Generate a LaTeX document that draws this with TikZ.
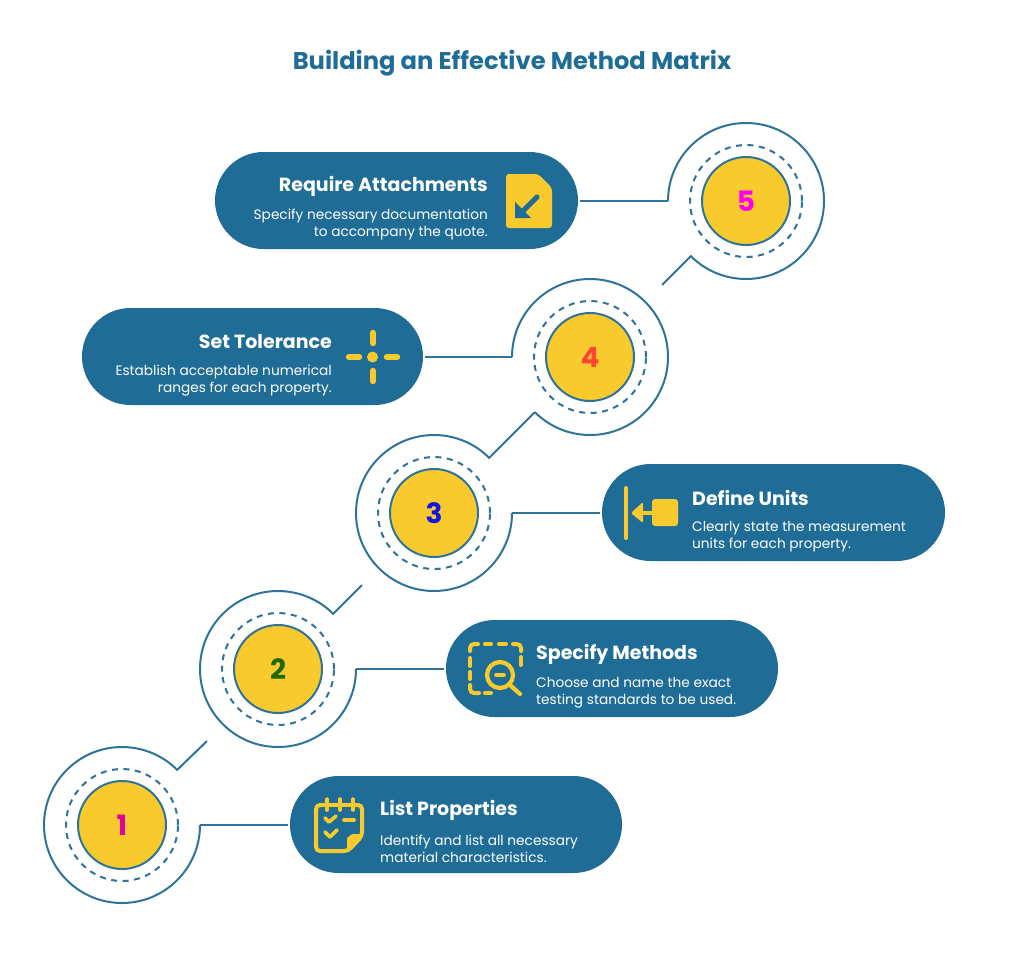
\documentclass[tikz,border=0pt]{standalone}
\usepackage{fontspec}
\setmainfont{Poppins}
\definecolor{pillblue}{HTML}{1F6D97}
\definecolor{ringblue}{HTML}{2E7399}
\definecolor{sunyellow}{HTML}{F9CA2D}
\definecolor{numA}{HTML}{E0009C}
\definecolor{numB}{HTML}{1F6A00}
\definecolor{numC}{HTML}{1414E6}
\definecolor{numD}{HTML}{FF4433}
\definecolor{numE}{HTML}{FF00F0}
\tikzset{
  pill/.style={fill=pillblue, rounded corners=48.5pt, minimum height=97pt, inner sep=0pt, outer sep=0pt},
  disc/.style={circle, draw=ringblue, fill=sunyellow, line width=2pt, minimum size=88pt, inner sep=0pt, font=\fontsize{28}{28}\selectfont\bfseries},
  dashring/.style={circle, draw=ringblue, line width=2pt, dash pattern=on 6pt off 5.5pt, minimum size=112pt, inner sep=0pt},
  ring/.style={circle, minimum size=156pt, inner sep=0pt, outer sep=0pt},
  ringline/.style={draw=ringblue, line width=2pt},
  heading/.style={text=white, font=\fontsize{19}{21}\selectfont\bfseries, inner sep=0pt},
  body/.style={text=white, font=\fontsize{13.7}{17}\selectfont, inner sep=0pt},
  iconline/.style={draw=sunyellow, line cap=round, line join=round},
}
\begin{document}
\begin{tikzpicture}[x=1pt, y=1pt]
    \useasboundingbox (0,0) rectangle (1024,-970);

    % Titolo
    \node[text=pillblue, font=\fontsize{24.2}{27}\selectfont\bfseries, inner sep=0pt] (title) at (512,-63) {Building an Effective Method Matrix};

    % Pillole
    \node[pill, minimum width=332pt] (pill1) at (456,-824.5) {};
    \node[pill, minimum width=332pt] (pill2) at (612,-668.5) {};
    \node[pill, minimum width=343pt] (pill3) at (773.5,-512.5) {};
    \node[pill, minimum width=341pt] (pill4) at (252.5,-356.5) {};
    \node[pill, minimum width=363pt] (pill5) at (396.5,-200.5) {};

    % Cerchi gialli
    \node[disc, text=numA] (disc1) at (122,-825) {1};
    \node[disc, text=numB] (disc2) at (278,-669) {2};
    \node[disc, text=numC] (disc3) at (434,-513) {3};
    \node[disc, text=numD] (disc4) at (590,-357) {4};
    \node[disc, text=numE] (disc5) at (746,-201) {5};

    % Anelli tratteggiati
    \node[dashring] (dash1) at (122,-825) {};
    \node[dashring] (dash2) at (278,-669) {};
    \node[dashring] (dash3) at (434,-513) {};
    \node[dashring] (dash4) at (590,-357) {};
    \node[dashring] (dash5) at (746,-201) {};

    % Anelli esterni
    \node[ring] (ring1) at (122,-825) {};
    \node[ring] (ring2) at (278,-669) {};
    \node[ring] (ring3) at (434,-513) {};
    \node[ring] (ring4) at (590,-357) {};
    \node[ring] (ring5) at (746,-201) {};
    \coordinate (tail1) at (207,-741);
    \coordinate (tail2) at (362,-585);
    \coordinate (tail5) at (662,-285);

    \draw[ringline] (ring1.east) arc[start angle=0, end angle=-315, radius=78pt] -- (tail1);
    \draw[ringline] (ring2.east) arc[start angle=0, end angle=-315, radius=78pt] -- (tail2);
    \draw[ringline] (ring3.east) arc[start angle=0, end angle=-315, radius=78pt] -- (ring4.225);
    \draw[ringline] (ring4.west) arc[start angle=180, end angle=-135, radius=78pt];
    \draw[ringline] (ring5.west) arc[start angle=180, end angle=-135, radius=78pt] -- (tail5);

    % Collegamenti verso le pillole
    \draw[ringline, shorten >=2pt] (ring1.east) -- (ring1.east -| pill1.west);
    \draw[ringline, shorten >=2pt] (ring2.east) -- (ring2.east -| pill2.west);
    \draw[ringline, shorten >=2pt] (ring3.east) -- (ring3.east -| pill3.west);
    \draw[ringline, shorten >=2pt] (ring4.west) -- (ring4.west -| pill4.east);
    \draw[ringline, shorten >=2pt] (ring5.west) -- (ring5.west -| pill5.east);

    % Testi
    \node[heading, anchor=west] (head1) at (380,-810) {List Properties};
    \node[body, anchor=west, align=left] (text1) at (380,-849) {Identify and list all necessary\\material characteristics.};
    \node[heading, anchor=west] (head2) at (536,-654) {Specify Methods};
    \node[body, anchor=west, align=left] (text2) at (536,-693) {Choose and name the exact\\testing standards to be used.};
    \node[heading, anchor=west] (head3) at (692,-498) {Define Units};
    \node[body, anchor=west, align=left] (text3) at (692,-537) {Clearly state the measurement\\units for each property.};
    \node[heading, anchor=east] (head4) at (332,-342) {Set Tolerance};
    \node[body, anchor=east, align=right] (text4) at (332,-381) {Establish acceptable numerical\\ranges for each property.};
    \node[heading, anchor=east] (head5) at (488,-186) {Require Attachments};
    \node[body, anchor=east, align=right] (text5) at (488,-225) {Specify necessary documentation\\to accompany the quote.};

    % Icona 1: lista
    \draw[iconline, line width=4pt, rounded corners=4pt] (322,-805) -- (316,-805) -- (316,-851) -- (348,-851) -- (362,-836) -- (362,-805) -- (358,-805);
    \fill[sunyellow, rounded corners=1pt] (347,-853) -- (347,-838) -- (352,-834) -- (364,-834) -- cycle;
    \draw[iconline, line width=3.6pt] (327,-799) -- (327,-810) (340,-799) -- (340,-810) (353,-799) -- (353,-810) (322,-805) -- (358,-805);
    \draw[iconline, line width=3.6pt] (325,-818) -- (329,-822) -- (336,-816);
    \draw[iconline, line width=3.6pt] (325,-832) -- (330,-837) -- (337,-830);
    \draw[iconline, line width=3.6pt] (344,-820) -- (354,-820);

    % Icona 2: lente
    \draw[iconline, line width=4pt, rounded corners=4pt] (470,-651) -- (470,-644) -- (478,-644);
    \draw[iconline, line width=4pt, rounded corners=4pt] (513,-644) -- (521,-644) -- (521,-651);
    \draw[iconline, line width=4pt, rounded corners=4pt] (470,-685) -- (470,-693) -- (479,-693);
    \draw[iconline, line width=4pt] (485,-644) -- (491,-644) (499,-644) -- (506,-644);
    \draw[iconline, line width=4pt] (470,-658) -- (470,-666) (470,-672) -- (470,-679);
    \draw[iconline, line width=4pt] (521,-657) -- (521,-665) (485,-693) -- (491,-693);
    \draw[iconline, line width=4.2pt] (500,-675) circle[radius=13pt];
    \draw[iconline, line width=3.6pt] (496,-675) -- (504,-675);
    \draw[iconline, line width=4.2pt] (510,-685) -- (520,-694);

    % Icona 3: freccia verso la barra
    \draw[iconline, line width=4pt] (626,-488) -- (626,-538);
    \fill[sunyellow, rounded corners=3pt] (652,-499) rectangle (678,-526);
    \draw[iconline, line width=3.6pt] (655,-513) -- (640,-513);
    \fill[sunyellow, rounded corners=1.5pt] (631,-513) -- (643,-502) -- (643,-523) -- cycle;

    % Icona 4: mirino
    \fill[sunyellow] (372.5,-357) circle[radius=5.5pt];
    \draw[iconline, line width=6.5pt] (373,-333) -- (373,-343) (373,-371) -- (373,-381) (349,-357) -- (359,-357) (387,-357) -- (397,-357);

    % Icona 5: documento
    \fill[sunyellow, rounded corners=3pt] (506,-174) -- (538,-174) -- (552,-188) -- (552,-228) -- (506,-228) -- cycle;
    \draw[draw=pillblue, line width=5pt, line cap=round] (537,-197) -- (522,-212);
    \fill[pillblue] (515,-202) -- (515,-218) -- (531,-218) -- cycle;
\end{tikzpicture}
\end{document}
